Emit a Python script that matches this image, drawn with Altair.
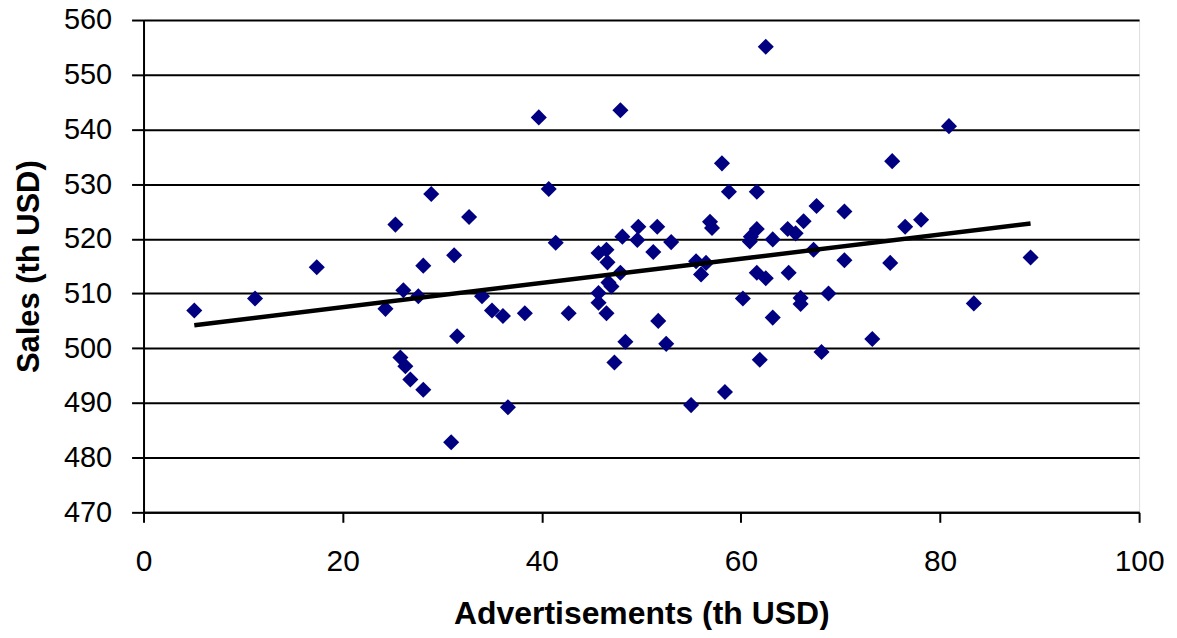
import altair as alt
import pandas as pd

# Advertisements (th USD)
adv = [5.1, 11.2, 17.4, 24.3, 25.3, 25.8, 26.1, 26.3, 26.8, 27.6,
       28.1, 28.1, 28.9, 30.9, 31.2, 31.5, 32.7, 34.0, 35.0, 36.1,
       36.6, 38.3, 39.7, 40.7, 41.4, 42.7, 45.7, 46.5, 46.6, 47.9,
       48.1, 49.7, 49.6, 51.6, 51.2, 53.0, 55.5, 56.0, 56.5, 56.9,
       57.1, 58.1, 46.7, 47.0, 45.7, 45.7, 46.5, 47.9, 47.3, 48.4,
       51.7, 52.5, 55.0, 58.4, 62.5, 58.8, 61.6, 75.2, 67.6, 70.4,
       66.3, 64.7, 65.5, 61.6, 61.0, 60.9, 63.2, 76.5, 78.1, 67.3,
       70.4, 75.0, 61.6, 62.5, 64.8, 60.2, 66.0, 66.0, 68.8, 63.2,
       73.2, 68.1, 61.9, 80.9, 89.1, 83.4]
# Sales (th USD)
sales = [506.9, 509.1, 514.8, 507.2, 522.6, 498.3, 510.6, 496.7, 494.3, 509.5,
         515.1, 492.4, 528.2, 482.8, 517.0, 502.2, 524.0, 509.5, 506.9, 505.9,
         489.2, 506.4, 542.2, 529.1, 519.3, 506.4, 517.4, 518.0, 515.7, 513.8,
         520.4, 522.2, 519.8, 522.2, 517.6, 519.4, 515.9, 513.5, 515.6, 523.1,
         522.0, 533.8, 512.0, 511.3, 510.1, 508.3, 506.4, 543.5, 497.4, 501.2,
         505.0, 500.8, 489.6, 492.0, 555.1, 528.6, 528.6, 534.2, 526.0, 525.0,
         523.2, 521.8, 521.0, 521.8, 520.4, 519.5, 519.9, 522.2, 523.5, 518.0,
         516.1, 515.6, 513.8, 512.8, 513.8, 509.1, 509.2, 508.1, 510.0, 505.6,
         501.7, 499.3, 497.9, 540.6, 516.6, 508.2]

# Linear trend line end points
trend_x = [5.1, 89.1]
trend_y = [504.2, 522.8]

x_ticks = [0, 20, 40, 60, 80, 100]
y_ticks = [470, 480, 490, 500, 510, 520, 530, 540, 550, 560]

pts = pd.DataFrame({"adv": adv, "sales": sales})
trend = pd.DataFrame({"adv": trend_x, "sales": trend_y})

FONT = "Liberation Sans"

xenc = alt.X(
    "adv:Q",
    scale=alt.Scale(domain=[0, 100], nice=False, zero=False),
    axis=alt.Axis(
        title="Advertisements (th USD)",
        values=x_ticks,
        grid=False,
        domainColor="black",
        domainWidth=2,
        tickColor="black",
        tickWidth=2,
        tickSize=10,
        labelFontSize=30,
        labelFont=FONT,
        labelColor="black",
        labelPadding=24,
        labelFlush=False,
        titleFont=FONT,
        titleFontSize=32,
        titleFontWeight="bold",
        titleColor="black",
        titlePadding=23,
    ),
)
yenc = alt.Y(
    "sales:Q",
    scale=alt.Scale(domain=[470, 560], nice=False, zero=False),
    axis=alt.Axis(
        title="Sales (th USD)",
        values=y_ticks,
        grid=True,
        gridColor="black",
        gridWidth=2,
        gridOpacity=1,
        domainColor="black",
        domainWidth=2,
        tickColor="black",
        tickWidth=2,
        tickSize=12,
        labelFontSize=29,
        labelFont=FONT,
        labelColor="black",
        labelPadding=20,
        labelFlush=False,
        titleFont=FONT,
        titleFontSize=31,
        titleFontWeight="bold",
        titleColor="black",
        titlePadding=18,
    ),
)

points = alt.Chart(pts).mark_point(
    shape="diamond", filled=True, color="#000080", size=260, opacity=1
).encode(x=xenc, y=yenc)

line = alt.Chart(trend).mark_line(color="black", strokeWidth=4.5).encode(
    x=alt.X("adv:Q"), y=alt.Y("sales:Q")
)

chart = (
    alt.layer(points, line)
    .properties(
        width=999,
        height=494,
        autosize=alt.AutoSizeParams(type="none"),
        padding={"left": 136, "top": 11, "right": 30, "bottom": 117},
    )
    .configure_view(stroke=None)
    .configure(background="white")
)

chart.save("out.html", embed_options={"renderer": "svg", "actions": False})
